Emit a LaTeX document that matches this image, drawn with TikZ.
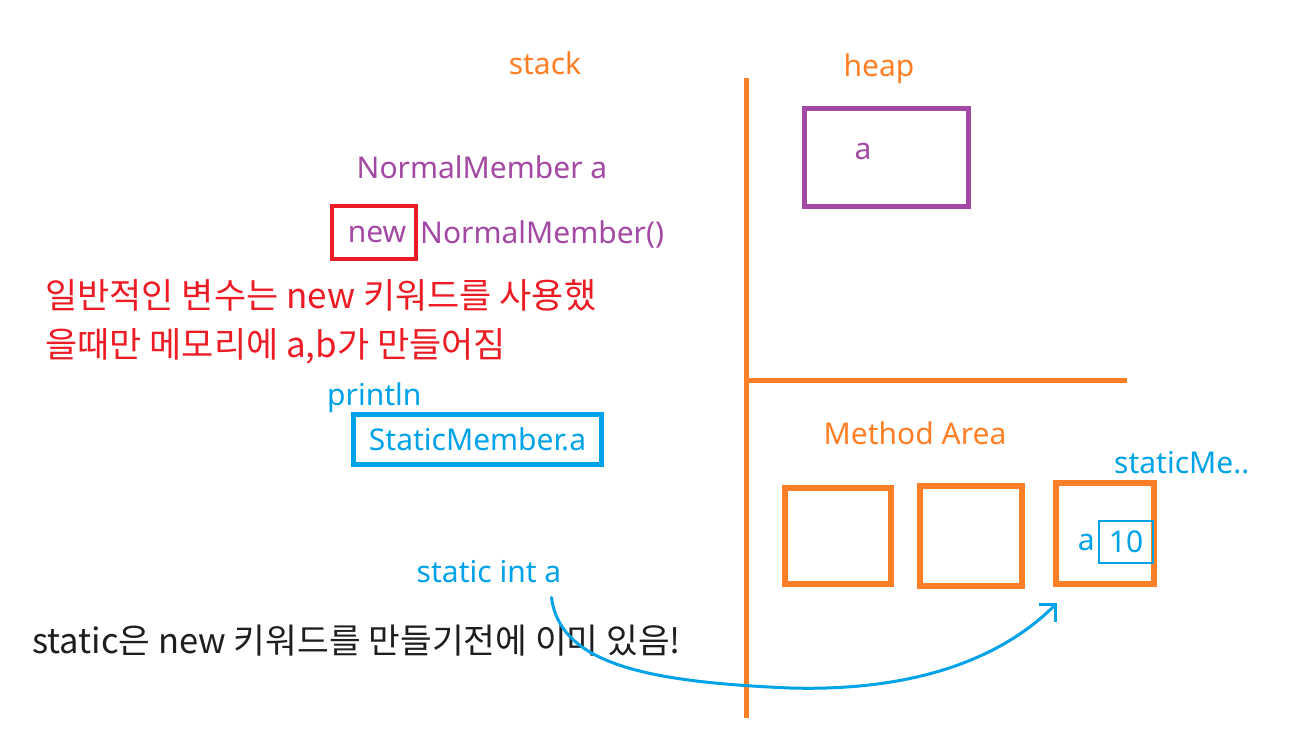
\documentclass[tikz,border=0pt]{standalone}
\usepackage{fontspec}
\setsansfont{Noto Sans}
\newfontfamily\krfont{Noto Sans CJK KR}
\usetikzlibrary{positioning, arrows.meta, calc}
\definecolor{jvorange}{HTML}{FF7F27}
\definecolor{jvpurple}{HTML}{A349A4}
\definecolor{jvred}{HTML}{ED1C24}
\definecolor{jvblue}{HTML}{00A2E8}
\definecolor{jvink}{HTML}{1E1E1E}
\newcommand{\jvbig}{\fontsize{30}{36}\selectfont}
\newcommand{\jvkr}{\krfont\fontsize{35}{42}\selectfont}
\newcommand{\jvkrs}{\krfont\fontsize{34.5}{42}\selectfont}

\begin{document}
\begin{tikzpicture}[
    x=1pt, y=-1pt,
    font=\sffamily\jvbig,
    % ---- shared styles ---------------------------------------------------
    wall/.style={draw=jvorange, line width=5pt},
    txt/.style={inner sep=0pt},
    areatxt/.style={txt, text=jvorange},
    purptxt/.style={txt, text=jvpurple},
    bluetxt/.style={txt, text=jvblue},
    redtxt/.style={txt, text=jvred, font=\jvkr, anchor=west},
    heapbox/.style={draw=jvpurple, line width=5pt, inner sep=0pt},
    newbox/.style={draw=jvred, line width=4pt, inner sep=0pt},
    callbox/.style={draw=jvblue, line width=5pt, inner sep=0pt, text=jvblue},
    slot/.style={draw=jvorange, line width=6pt, inner sep=0pt},
    valbox/.style={draw=jvblue, line width=2pt, inner sep=0pt, text=jvblue},
    recall/.style={draw=jvblue, line width=3pt, line cap=round, line join=round,
                   -{Straight Barb[angle=90:17pt]}},
  ]
\fill[white] (0,0) rectangle (1300,734);
\useasboundingbox (0,0) rectangle (1300,734);

% =========================================================================
% memory walls
% =========================================================================
\draw[wall] (746,78) -- (746,718);
\draw[wall] (746,380) -- (1127,380);

\node[areatxt] (stack) at (545,63) {stack};
\node[areatxt] (heap) at (879,69) {heap};
\node[areatxt] (marea) at (915,433) {Method Area};

% =========================================================================
% LEFT -- stack side
% =========================================================================
\node[purptxt] (decl) at (482,167) {NormalMember a};
\node[newbox, minimum width=84pt, minimum height=53pt] (kwnew) at (374,232.5) {};
\node[purptxt] (kwtxt) at (377,234) {new};
\node[purptxt, anchor=west] (ctor) at (420,234) {NormalMember()};

\node[redtxt] (note1) at (45,295) {일반적인 변수는 new 키워드를 사용했};
\node[redtxt] (note2) at (45,346) {을때만 메모리에 a,b가 만들어짐};

\node[bluetxt, anchor=west] (prt) at (327,398) {println};
\node[callbox, minimum width=248pt, minimum height=50pt] (call) at (477.5,439.5)
  {StaticMember.a};

\node[bluetxt] (sia) at (489,572) {static int a};
\node[txt, text=jvink, font=\jvkrs, anchor=west] (note3) at (32,641)
  {static은 new 키워드를 만들기전에 이미 있음!};

% =========================================================================
% RIGHT -- heap and method area
% =========================================================================
\node[heapbox, minimum width=164pt, minimum height=98pt] (obj) at (886.5,157.5) {};
\node[purptxt] (obja) at (863,151) {a};

\node[slot, minimum width=106pt, minimum height=96pt] (m1) at (838,536) {};
\node[slot, minimum width=102pt, minimum height=100pt] (m2) at (971,536) {};
\node[slot, minimum width=98pt, minimum height=101pt] (m3) at (1105,533.5) {};

\node[bluetxt, anchor=west] (smname) at (1114,463) {staticMe..};
\node[valbox, minimum width=54pt, minimum height=42pt] (ten) at (1126,542) {10};
\node[bluetxt, left=3pt of ten] (tena) {a};

% the static field already sits in the method area
\coordinate (tail) at ($(sia.south east)+(-10,14)$);
\coordinate (head) at ($(m3.south west)+(4,16)$);
\draw[recall] (tail) .. controls (560,665) and (650,682) .. (790,688)
  .. controls (930,692) and (1010,650) .. (head);

\end{tikzpicture}
\end{document}
